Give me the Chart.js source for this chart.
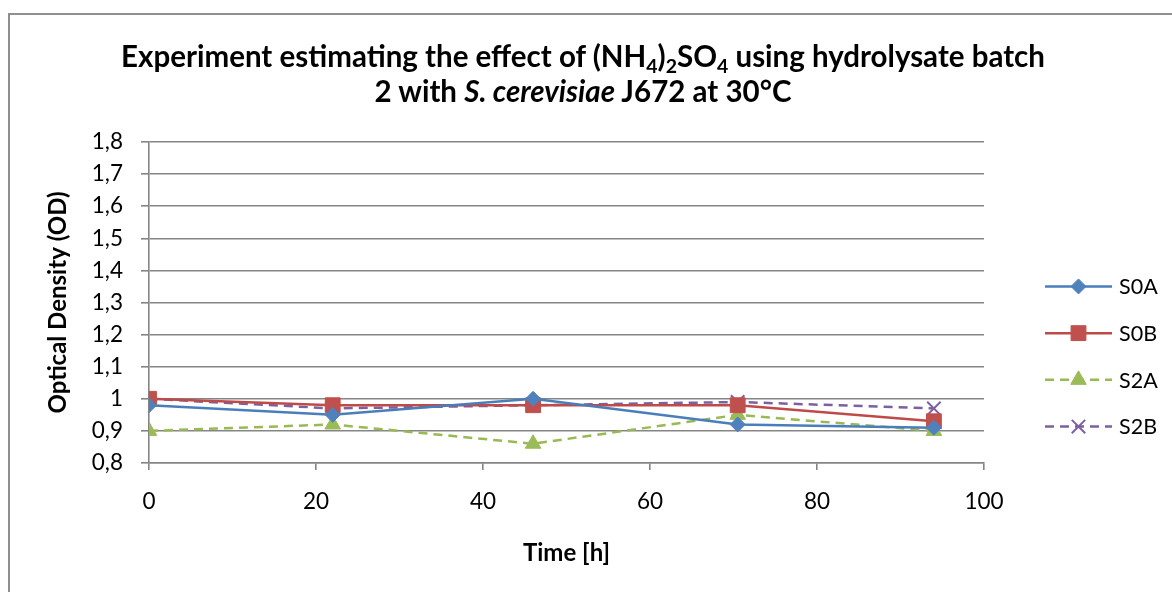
<!DOCTYPE html>
<html>
<head>
<meta charset="utf-8">
<title>Effect of (NH4)2SO4 - hydrolysate batch 2</title>
<script src="https://cdn.jsdelivr.net/npm/chart.js@4.4.1/dist/chart.umd.min.js"></script>
<style>
    html, body {
        margin: 0;
        padding: 0;
        background: #ffffff;
    }
    #wrap {
        position: relative;
        width: 1172px;
        height: 592px;
        overflow: hidden;
    }
    #frame {
        position: absolute;
        left: 8px;
        top: 13px;
        width: 1300px;
        height: 700px;
        border-left: 2px solid #8f8f8f;
        border-top: 2px solid #8f8f8f;
    }
    #chart-title {
        position: absolute;
        left: -3px;
        top: 38px;
        width: 1172px;
        text-align: center;
        font-family: Lato, "Open Sans", sans-serif;
        font-weight: bold;
        font-size: 29.5px;
        line-height: 35px;
        color: #000000;
    }
    #chart-title sub {
        font-size: 0.66em;
        vertical-align: -0.3em;
        line-height: 0;
    }
    #odChart {
        position: absolute;
        left: 0;
        top: 0;
    }
</style>
</head>
<body>
<div id="wrap">
    <div id="frame"></div>
    <canvas id="odChart" width="1172" height="592"></canvas>
    <div id="chart-title">Experiment estimating the effect of (NH<sub>4</sub>)<sub>2</sub>SO<sub>4</sub> using hydrolysate batch<br>2 with <i>S. cerevisiae</i> J672 at 30°C</div>
</div>

<script>
// Sampling times [h]
const timeH = [0, 22, 46, 70.5, 94];

// Optical density per series
const seriesNames = ['S0A', 'S0B', 'S2A', 'S2B'];
const s0a = [0.98, 0.95, 1.00, 0.92, 0.91];
const s0b = [1.00, 0.98, 0.98, 0.98, 0.93];
const s2a = [0.90, 0.92, 0.86, 0.95, 0.90];
const s2b = [1.00, 0.97, 0.98, 0.99, 0.97];

// Axis ticks
const xTickValues = [0, 20, 40, 60, 80, 100];
const yTickValues = [0.8, 0.9, 1.0, 1.1, 1.2, 1.3, 1.4, 1.5, 1.6, 1.7, 1.8];
const yTickLabels = ['0,8', '0,9', '1', '1,1', '1,2', '1,3', '1,4', '1,5', '1,6', '1,7', '1,8'];

const FONT = 'Lato, "Open Sans", sans-serif';
const AXIS_GREY = '#858585';

function toPoints(values) {
    return values.map(function(v, i) {
        return { x: timeH[i], y: v };
    });
}

const styles = [
    { color: '#4A7EBB', fill: '#4F81BD', point: 'rectRot', radius: 7.5, dash: [] },
    { color: '#BE4B48', fill: '#C0504D', point: 'rect', radius: 10.5, dash: [] },
    { color: '#98B954', fill: '#9BBB59', point: 'triangle', radius: 9, dash: [9, 6] },
    { color: '#7D60A0', fill: '#8064A2', point: 'crossRot', radius: 9.5, dash: [9, 6] }
];

const seriesValues = [s0a, s0b, s2a, s2b];

const datasets = seriesValues.map(function(values, i) {
    const st = styles[i];
    return {
        label: seriesNames[i],
        data: toPoints(values),
        showLine: true,
        borderColor: st.color,
        borderWidth: 2.5,
        borderDash: st.dash,
        pointStyle: st.point,
        pointRadius: st.radius,
        pointHoverRadius: st.radius,
        pointBackgroundColor: st.fill,
        pointBorderColor: st.point === 'crossRot' ? st.color : st.fill,
        pointBorderWidth: st.point === 'crossRot' ? 2 : 1,
        tension: 0
    };
});

// Legend on the right: line + marker + label
const sideLegend = {
    id: 'sideLegend',
    afterDraw: function(chart) {
        const ctx = chart.ctx;
        const area = chart.chartArea;
        const x0 = area.right + 61;
        const x1 = area.right + 128;
        const xm = (x0 + x1) / 2;
        const rowGap = 46.7;
        const yStart = (area.top + area.bottom) / 2 - 1.5 * rowGap + 54;

        chart.data.datasets.forEach(function(ds, i) {
            const y = yStart + i * rowGap;
            ctx.save();
            ctx.strokeStyle = ds.borderColor;
            ctx.lineWidth = 2.5;
            ctx.setLineDash(ds.borderDash || []);
            ctx.beginPath();
            ctx.moveTo(x0, y);
            ctx.lineTo(x1, y);
            ctx.stroke();
            ctx.setLineDash([]);
            ctx.fillStyle = ds.pointBackgroundColor;
            ctx.strokeStyle = ds.pointBorderColor;
            ctx.lineWidth = ds.pointBorderWidth;
            Chart.helpers.drawPoint(ctx, {
                pointStyle: ds.pointStyle,
                radius: ds.pointRadius,
                rotation: 0,
                borderWidth: ds.pointBorderWidth
            }, xm, y);
            ctx.fillStyle = '#000000';
            ctx.font = '21.5px ' + FONT;
            ctx.textAlign = 'left';
            ctx.textBaseline = 'middle';
            ctx.fillText(ds.label, x1 + 7, y + 1);
            ctx.restore();
        });
    }
};

new Chart(document.getElementById('odChart'), {
    type: 'scatter',
    data: { datasets: datasets },
    options: {
        responsive: false,
        animation: false,
        layout: {
            padding: { left: 0, top: 142, right: 188, bottom: 0 }
        },
        plugins: {
            legend: { display: false },
            title: { display: false },
            tooltip: { enabled: false }
        },
        scales: {
            x: {
                type: 'linear',
                min: 0,
                max: 100,
                afterBuildTicks: function(scale) {
                    scale.ticks = xTickValues.map(function(v) { return { value: v }; });
                },
                afterFit: function(scale) {
                    scale.height = 129;
                },
                ticks: {
                    color: '#000000',
                    font: { family: FONT, size: 22.5 },
                    padding: 18,
                    maxRotation: 0
                },
                grid: {
                    display: true,
                    drawOnChartArea: false,
                    drawTicks: true,
                    tickLength: 7,
                    color: AXIS_GREY,
                    lineWidth: 1.6
                },
                border: { display: true, color: AXIS_GREY, width: 1.6 },
                title: {
                    display: true,
                    text: 'Time [h]',
                    color: '#000000',
                    font: { family: FONT, size: 24, weight: 'bold' },
                    padding: { top: 0, bottom: 24 }
                }
            },
            y: {
                type: 'linear',
                min: 0.8,
                max: 1.8,
                afterBuildTicks: function(scale) {
                    scale.ticks = yTickValues.map(function(v) { return { value: v }; });
                },
                afterFit: function(scale) {
                    scale.width = 149;
                },
                ticks: {
                    color: '#000000',
                    font: { family: FONT, size: 22.5 },
                    padding: 18,
                    callback: function(value, index) {
                        return yTickLabels[index];
                    }
                },
                grid: {
                    display: true,
                    drawTicks: true,
                    tickLength: 8,
                    color: AXIS_GREY,
                    lineWidth: 1.6
                },
                border: { display: true, color: AXIS_GREY, width: 1.6 },
                title: {
                    display: true,
                    text: 'Optical Density (OD)',
                    color: '#000000',
                    font: { family: FONT, size: 24, weight: 'bold' },
                    padding: { top: 44, bottom: 0 }
                }
            }
        }
    },
    plugins: [sideLegend]
});
</script>
</body>
</html>
